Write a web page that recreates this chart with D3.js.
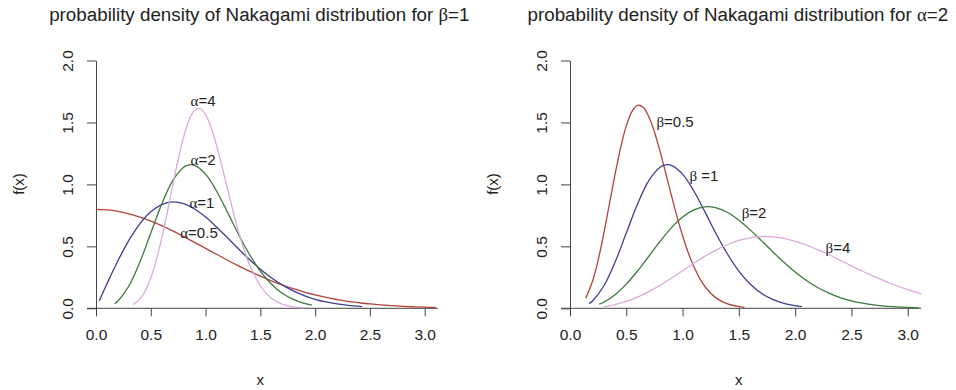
<!DOCTYPE html>
<meta charset="utf-8">
<style>
  body { margin: 0; background: #fff; }
  text { font-family: "Liberation Sans", Arial, sans-serif; fill: #222; }
  .greek { font-family: "Liberation Serif", "DejaVu Serif", serif; }
</style>
<div id="container"></div>
<script src="https://cdn.jsdelivr.net/npm/d3@7"></script>
<script>

// left panel: beta = 1, alpha varies
const xA05 = [0, 0.1, 0.2, 0.3, 0.4, 0.5, 0.6, 0.7, 0.8, 0.9, 1.0, 1.1, 1.2, 1.3, 1.4, 1.5, 1.6, 1.7, 1.8, 1.9, 2.0, 2.1, 2.2, 2.3, 2.4, 2.5, 2.6, 2.7, 2.8, 2.9, 3.0, 3.1];
const fA05 = [0.798, 0.794, 0.782, 0.762, 0.736, 0.704, 0.667, 0.625, 0.579, 0.532, 0.484, 0.436, 0.388, 0.343, 0.300, 0.259, 0.222, 0.188, 0.158, 0.131, 0.108, 0.088, 0.071, 0.056, 0.045, 0.035, 0.027, 0.021, 0.016, 0.012, 0.009, 0.0065];

const xA1 = [0.03, 0.1, 0.2, 0.3, 0.4, 0.5, 0.6, 0.7, 0.8, 0.9, 1.0, 1.1, 1.2, 1.3, 1.4, 1.5, 1.6, 1.7, 1.8, 1.9, 2.0, 2.1, 2.2, 2.3, 2.43];
const fA1 = [0.060, 0.198, 0.384, 0.548, 0.682, 0.779, 0.837, 0.859, 0.844, 0.801, 0.736, 0.656, 0.569, 0.480, 0.394, 0.316, 0.247, 0.189, 0.141, 0.103, 0.073, 0.051, 0.035, 0.023, 0.014];

const xA2 = [0.17, 0.2, 0.3, 0.4, 0.5, 0.6, 0.7, 0.8, 0.85, 0.9, 1.0, 1.1, 1.2, 1.3, 1.4, 1.5, 1.6, 1.7, 1.8, 1.9, 1.97];
const fA2 = [0.037, 0.059, 0.180, 0.372, 0.607, 0.841, 1.030, 1.139, 1.158, 1.154, 1.083, 0.947, 0.776, 0.598, 0.436, 0.300, 0.196, 0.121, 0.072, 0.040, 0.026];

const xA4 = [0.34, 0.4, 0.45, 0.5, 0.55, 0.6, 0.65, 0.7, 0.75, 0.8, 0.85, 0.9, 0.95, 1.0, 1.05, 1.1, 1.15, 1.2, 1.25, 1.3, 1.35, 1.4, 1.5, 1.6, 1.7, 1.8, 1.9];
const fA4 = [0.030, 0.074, 0.142, 0.245, 0.387, 0.566, 0.772, 0.990, 1.201, 1.383, 1.520, 1.599, 1.612, 1.563, 1.460, 1.315, 1.144, 0.964, 0.786, 0.621, 0.476, 0.354, 0.180, 0.082, 0.033, 0.012, 0.004];

// right panel: alpha = 2, beta varies
const xB05 = [0.14, 0.2, 0.25, 0.3, 0.35, 0.4, 0.45, 0.5, 0.55, 0.6, 0.65, 0.7, 0.75, 0.8, 0.85, 0.9, 0.95, 1.0, 1.05, 1.1, 1.15, 1.2, 1.3, 1.4, 1.5, 1.55];
const fB05 = [0.081, 0.218, 0.389, 0.603, 0.841, 1.080, 1.297, 1.472, 1.588, 1.638, 1.622, 1.546, 1.423, 1.267, 1.092, 0.914, 0.742, 0.586, 0.450, 0.337, 0.245, 0.174, 0.082, 0.035, 0.013, 0.008];

const xB1 = [0.17, 0.2, 0.3, 0.4, 0.5, 0.6, 0.7, 0.8, 0.85, 0.9, 1.0, 1.1, 1.2, 1.3, 1.4, 1.5, 1.6, 1.7, 1.8, 1.9, 2.0, 2.06];
const fB1 = [0.037, 0.059, 0.180, 0.372, 0.607, 0.841, 1.030, 1.139, 1.158, 1.154, 1.083, 0.947, 0.776, 0.598, 0.436, 0.300, 0.196, 0.121, 0.072, 0.040, 0.022, 0.014];

const xB2 = [0.26, 0.3, 0.4, 0.5, 0.6, 0.7, 0.8, 0.9, 1.0, 1.1, 1.2, 1.3, 1.4, 1.5, 1.6, 1.7, 1.8, 1.9, 2.0, 2.1, 2.2, 2.3, 2.4, 2.5, 2.6, 2.7, 2.8, 2.9, 3.0, 3.1];
const fB2 = [0.033, 0.049, 0.109, 0.195, 0.301, 0.420, 0.540, 0.649, 0.736, 0.794, 0.819, 0.811, 0.773, 0.711, 0.633, 0.546, 0.457, 0.371, 0.293, 0.225, 0.168, 0.123, 0.087, 0.060, 0.041, 0.027, 0.017, 0.011, 0.007, 0.004];

const xB4 = [0.3, 0.4, 0.5, 0.6, 0.7, 0.8, 0.9, 1.0, 1.1, 1.2, 1.3, 1.4, 1.5, 1.6, 1.7, 1.8, 1.9, 2.0, 2.1, 2.2, 2.3, 2.4, 2.5, 2.6, 2.7, 2.8, 2.9, 3.0, 3.12];
const fB4 = [0.013, 0.030, 0.055, 0.090, 0.134, 0.186, 0.243, 0.303, 0.363, 0.421, 0.472, 0.515, 0.548, 0.569, 0.579, 0.577, 0.564, 0.541, 0.511, 0.473, 0.432, 0.388, 0.343, 0.299, 0.257, 0.218, 0.182, 0.150, 0.117];

const xTicks = [0, 0.5, 1, 1.5, 2, 2.5, 3];
const yTicks = [0, 0.5, 1, 1.5, 2];

const colors = { red: "#b5413b", blue: "#3b3f90", green: "#3a7a3a", pink: "#dba9db" };

const panels = [
  { left: 96, title: ["probability density of Nakagami distribution for ", "β", "=1"],
    series: [
      { x: xA05, f: fA05, color: colors.red },
      { x: xA1, f: fA1, color: colors.blue },
      { x: xA2, f: fA2, color: colors.green },
      { x: xA4, f: fA4, color: colors.pink }],
    labels: [
      { g: "α", t: "=4", x: 0.977, y: 1.673 },
      { g: "α", t: "=2", x: 0.977, y: 1.197 },
      { g: "α", t: "=1", x: 0.967, y: 0.850 },
      { g: "α", t: "=0.5", x: 0.94, y: 0.608 }] },
  { left: 570, title: ["probability density of Nakagami distribution for ", "α", "=2"],
    series: [
      { x: xB05, f: fB05, color: colors.red },
      { x: xB1, f: fB1, color: colors.blue },
      { x: xB2, f: fB2, color: colors.green },
      { x: xB4, f: fB4, color: colors.pink }],
    labels: [
      { g: "β", t: "=0.5", x: 0.933, y: 1.504 },
      { g: "β", t: " =1", x: 1.19, y: 1.068 },
      { g: "β", t: "=2", x: 1.635, y: 0.769 },
      { g: "β", t: "=4", x: 2.38, y: 0.487 }] }
];

const width = 956, height = 390;
const svg = d3.create("svg").attr("width", width).attr("height", height);

const y = d3.scaleLinear().domain([0, 2]).range([308.3, 60.5]);
const axisColor = "#444";

panels.forEach((p, i) => {
  const pxPerUnit = i === 0 ? 109.57 : 112.57;
  const x = d3.scaleLinear().domain([0, 3]).range([p.left, p.left + 3 * pxPerUnit]);
  const g = svg.append("g");

  // title
  const cx = (x(0) + x(3)) / 2;
  const title = g.append("text").attr("x", cx - 1).attr("y", 21)
    .attr("text-anchor", "middle").style("font-size", "18.8px");
  title.append("tspan").text(p.title[0]);
  title.append("tspan").attr("class", "greek").text(p.title[1]);
  title.append("tspan").text(p.title[2]);

  // x axis
  const xa = g.append("g").attr("transform", `translate(0,${y(0)})`)
    .call(d3.axisBottom(x).tickValues(xTicks).tickFormat(d3.format(".1f"))
      .tickSize(8).tickPadding(13).tickSizeOuter(0));
  xa.select(".domain").remove();
  xa.selectAll("line").attr("stroke", axisColor);
  xa.selectAll("text").style("font-size", "15.5px").attr("fill", "#222");
  g.append("line")
    .attr("x1", x(0) - 9).attr("x2", x(3.12))
    .attr("y1", y(0)).attr("y2", y(0))
    .attr("stroke", axisColor);

  // y axis
  const ya = g.append("g").attr("transform", `translate(${x(0)},0)`)
    .call(d3.axisLeft(y).tickValues(yTicks).tickFormat(d3.format(".1f"))
      .tickSize(9).tickSizeOuter(0));
  ya.select(".domain").attr("stroke", axisColor);
  ya.selectAll("line").attr("stroke", axisColor);
  ya.selectAll("text")
    .attr("transform", "rotate(-90)")
    .attr("x", 0).attr("y", -28).attr("dy", "0.35em")
    .attr("text-anchor", "middle")
    .style("font-size", "15.5px").attr("fill", "#222");

  // axis titles
  g.append("text").attr("x", cx).attr("y", 385)
    .attr("text-anchor", "middle").style("font-size", "15px").text("x");
  g.append("text")
    .attr("transform", `translate(${x(0) - 77},184) rotate(-90)`)
    .attr("text-anchor", "middle").attr("dy", "0.35em")
    .style("font-size", "15px").text("f(x)");

  // curves
  const line = d3.line()
    .x(d => x(d[0])).y(d => y(d[1]))
    .curve(d3.curveCatmullRom.alpha(0.5));
  p.series.forEach(s => {
    g.append("path")
      .datum(d3.zip(s.x, s.f))
      .attr("d", line)
      .attr("fill", "none")
      .attr("stroke", s.color)
      .attr("stroke-width", 1.3);
  });

  // curve labels
  p.labels.forEach(l => {
    const t = g.append("text").attr("x", x(l.x)).attr("y", y(l.y))
      .attr("dy", "0.35em").attr("text-anchor", "middle")
      .style("font-size", "15px");
    t.append("tspan").attr("class", "greek").text(l.g);
    t.append("tspan").text(l.t);
  });
});

container.append(svg.node());

</script>
